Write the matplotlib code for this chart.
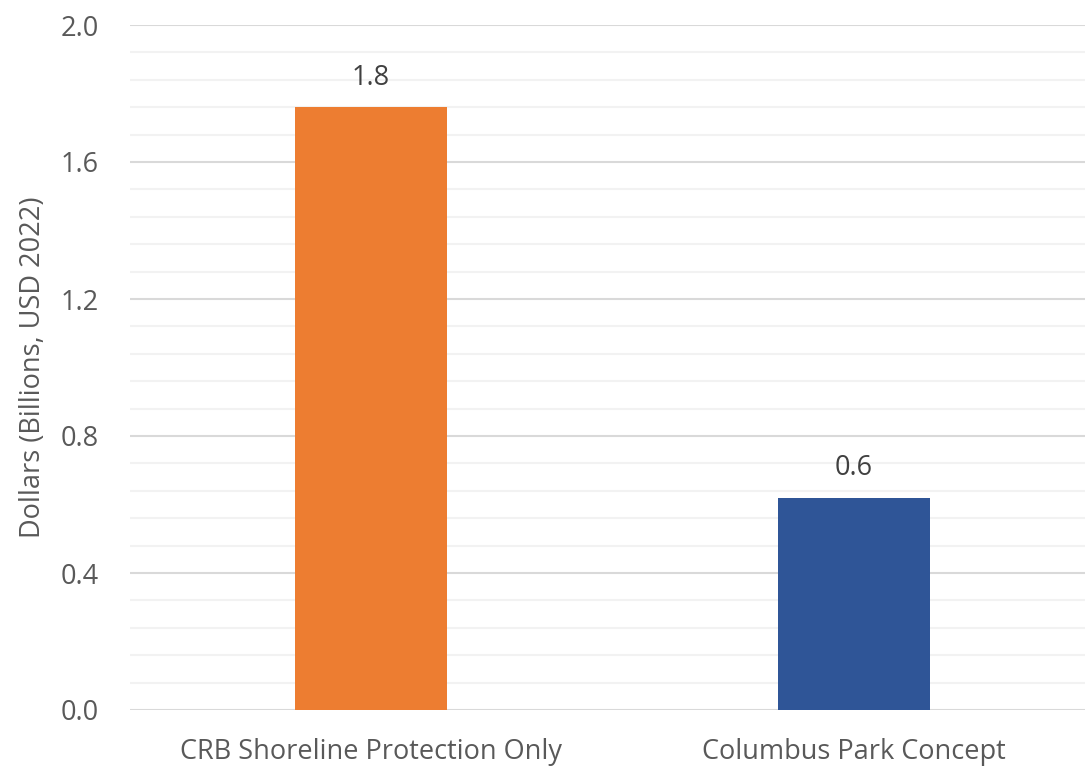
import matplotlib.pyplot as plt
import numpy as np

# Data
categories = ['CRB Shoreline Protection Only', 'Columbus Park Concept']
values = [1.76, 0.62]
bar_colors = ['#ED7D31', '#2F5597']
y_ticks = [0.0, 0.4, 0.8, 1.2, 1.6, 2.0]

plt.rcParams['font.family'] = ['Open Sans', 'DejaVu Sans']

fig = plt.figure(figsize=(10.85, 7.67), dpi=100)
ax = fig.add_axes([129.5 / 1085, 57 / 767, 1 - 129.5 / 1085, 685 / 767])

x = np.arange(len(categories))
bars = ax.bar(x, values, width=0.315, color=bar_colors, zorder=3)

# data labels
for b, v in zip(bars, values):
    ax.annotate(f'{v:.1f}', (b.get_x() + b.get_width() / 2, v),
                xytext=(0, 11), textcoords='offset points',
                ha='center', va='bottom', fontsize=19.5, color='#404040')

ax.set_ylim(0, 2.0)
ax.set_xlim(-0.5, 1.478)
ax.set_yticks(y_ticks)
ax.set_yticklabels([f'{t:.1f}' for t in y_ticks])
ax.set_yticks(np.arange(0, 2.0001, 0.08), minor=True)
ax.set_xticks(x)
ax.set_xticklabels(categories)

ax.grid(axis='y', which='major', color='#D9D9D9', linewidth=1.5, zorder=0)
ax.grid(axis='y', which='minor', color='#F2F2F2', linewidth=1.5, zorder=0)
ax.tick_params(axis='both', which='both', length=0, labelsize=19.5, colors='#595959')
ax.tick_params(axis='y', pad=22)
ax.tick_params(axis='x', pad=20)

for s in ax.spines.values():
    s.set_visible(False)

ax.set_ylabel('Dollars (Billions, USD 2022)', fontsize=19.5, color='#595959', labelpad=10)

fig.savefig('out.png', dpi=100)
